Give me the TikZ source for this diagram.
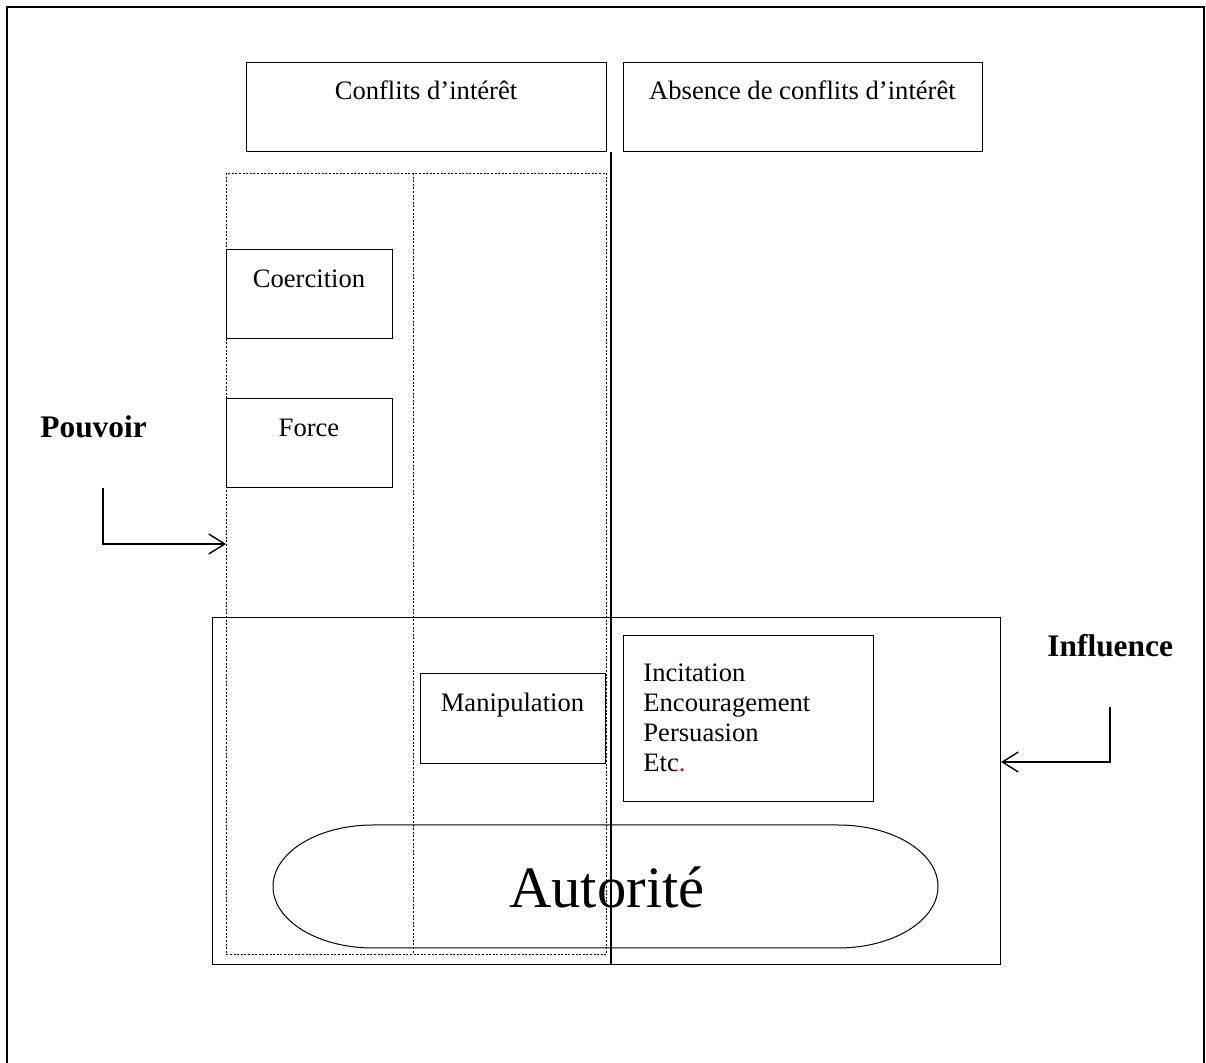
\documentclass[tikz,border=0pt]{standalone}
\usepackage{fontspec}
\setmainfont{Liberation Serif}
\usetikzlibrary{arrows.meta}
\begin{document}
\begin{tikzpicture}[x=0.5pt,y=-0.5pt,
  box/.style={draw, line width=0.5pt, inner sep=0pt, anchor=north west},
  txt/.style={inner sep=0pt, anchor=base, font=\fontsize{13.3}{15}\selectfont},
  bigtxt/.style={inner sep=0pt, anchor=base west, font=\fontsize{15.7}{18}\selectfont\bfseries},
  dotline/.style={line width=0.4pt, dash pattern=on 1pt off 0.8pt},
  arrowline/.style={line width=0.7pt, -{Straight Barb[length=8pt,width=10pt,line width=0.7pt]}}]
\useasboundingbox (0,0) rectangle (1206,1063);
% outer frame (bottom cut off)
\draw[line width=1pt] (7,1063) -- (7,7) -- (1204,7) -- (1204,1063);

% top boxes
\node[box, minimum width=180pt, minimum height=44.5pt] (conf) at (246,62) {};
\node[txt] (conft) at (426,100) {Conflits d’intérêt};
\node[box, minimum width=179.5pt, minimum height=44.5pt] (abs) at (623,62) {};
\node[txt] (abst) at (802.5,100) {Absence de conflits d’intérêt};

% dotted region
\node[box, dotline, minimum width=190pt, minimum height=390.5pt] (dotbox) at (226,173) {};
\coordinate (dtop) at (413,173);
\coordinate (dbot) at (413,954);
\draw[dotline] (dtop) -- (dbot);

% coercition and force
\node[box, minimum width=83pt, minimum height=44.5pt] (coer) at (226,249) {};
\node[txt] (coert) at (309,287.5) {Coercition};
\node[box, minimum width=83pt, minimum height=44.5pt] (force) at (226,398) {};
\node[txt] (forcet) at (309,436.5) {Force};

% influence box
\node[box, minimum width=394pt, minimum height=173.5pt] (infl) at (212,617) {};

% manipulation
\node[box, minimum width=92.5pt, minimum height=45pt] (manip) at (420,673) {};
\node[txt] (manipt) at (512.5,711.5) {Manipulation};

% incitation box
\node[box, minimum width=125pt, minimum height=83pt] (incit) at (623,635) {};
\node[inner sep=0pt, anchor=north west, align=left, font=\fontsize{13.3}{15}\selectfont] (incitt) at (643,663)
  {Incitation\\Encouragement\\Persuasion\\Etc\textcolor{red}{.}};

% solid vertical separator
\coordinate (vtop) at (611,152);
\coordinate (vbot) at (611,964);
\draw[line width=1pt] (vtop) -- (vbot);

% Autorite shape
\draw[line width=0.5pt] (373,825) -- (838,825)
  .. controls (893.2,825) and (938,852.5) .. (938,886.5)
  .. controls (938,920.5) and (893.2,948) .. (838,948)
  -- (373,948)
  .. controls (317.8,948) and (273,920.5) .. (273,886.5)
  .. controls (273,852.5) and (317.8,825) .. (373,825) -- cycle;
\node[inner sep=0pt, anchor=base, font=\fontsize{29.3}{32}\selectfont] (aut) at (607,907) {Autorité};

% Pouvoir
\node[bigtxt] (pouv) at (40,438) {Pouvoir};
\coordinate (pstart) at (103,488);
\coordinate (pend) at (226,544);
\draw[arrowline] (pstart) |- (pend);

% Influence
\node[bigtxt] (influ) at (1047,657) {Influence};
\coordinate (istart) at (1110,707);
\coordinate (iend) at (1001,762);
\draw[arrowline] (istart) |- (iend);
\end{tikzpicture}
\end{document}
